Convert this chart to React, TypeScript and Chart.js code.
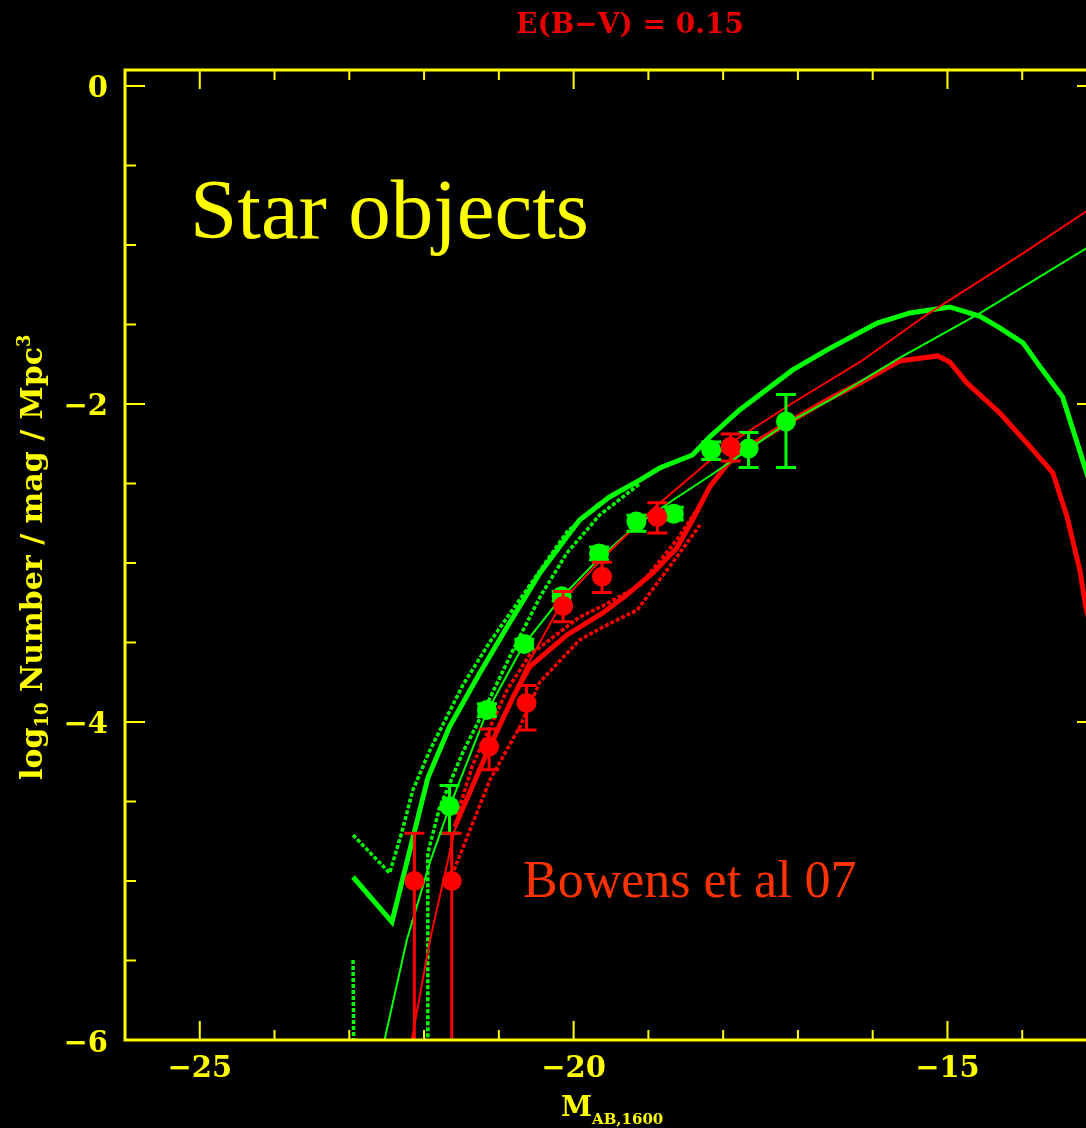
import React, { useEffect, useRef } from "react";
import { Chart, registerables } from "chart.js";

Chart.register(...registerables);

// ---- axis ticks ----
const xMajorTicks = [-25, -20, -15];
const xMinorTicks = [-26, -24, -23, -22, -21, -19, -18, -17, -16, -14, -13];
const yMajorTicks = [0, -2, -4, -6];
const yMinorTicks = [-0.5, -1, -1.5, -2.5, -3, -3.5, -4.5, -5, -5.5];

// ---- binned luminosity function (green) ----
const greenMag = [-21.66, -21.16, -20.66, -20.16, -19.66, -19.16, -18.66, -18.16, -17.66, -17.16];
const greenLogPhi = [-4.53, -3.925, -3.51, -3.21, -2.94, -2.74, -2.69, -2.29, -2.28, -2.11];
const greenErrUp = [0.13, 0.04, 0.03, 0.03, 0.04, 0.04, 0.04, 0.05, 0.1, 0.17];
const greenErrDown = [0.17, 0.04, 0.03, 0.03, 0.04, 0.06, 0.04, 0.06, 0.12, 0.29];

// ---- binned luminosity function (red) ----
const redMag = [-22.13, -21.63, -21.13, -20.63, -20.14, -19.62, -18.88, -17.9];
const redLogPhi = [-5.0, -5.0, -4.155, -3.88, -3.27, -3.086, -2.711, -2.269];
const redErrUp = [0.3, 0.3, 0.11, 0.11, 0.09, 0.09, 0.09, 0.08];
// 40 dex = lower bar runs off the bottom of the plot (upper limits)
const redErrDown = [40, 40, 0.145, 0.17, 0.1, 0.1, 0.1, 0.09];

// ---- Schechter fits ----
const greenFitMag = [-22.6, -22.23, -21.92, -21.66, -21.16, -20.67, -20.17, -19.68, -19.17, -18.67, -18.18, -17.67, -17.16, -16.57, -15.64, -14.57, -13.0];
const greenFitLogPhi = [-6.15, -5.37, -4.88, -4.535, -3.937, -3.516, -3.22, -2.981, -2.767, -2.604, -2.453, -2.289, -2.126, -1.975, -1.711, -1.43, -0.98];
const redFitMag = [-22.22, -21.92, -21.59, -21.13, -20.64, -20.14, -19.61, -18.91, -17.9, -17.07, -16.17, -15.28, -13.96, -13.0];
const redFitLogPhi = [-6.14, -5.37, -4.68, -4.164, -3.66, -3.233, -2.969, -2.648, -2.245, -1.994, -1.736, -1.44, -1.044, -0.745];

// ---- model star-object luminosity functions ----
const greenModelMag = [-22.95, -22.43, -21.95, -21.66, -21.255, -20.89, -20.45, -20.09, -19.92, -19.52, -19.11, -18.85, -18.41, -18.18, -17.78, -17.07, -16.61, -15.94, -15.5, -14.97, -14.57, -14.3, -13.99, -13.76, -13.46, -13.32, -13.15, -13.0];
const greenModelLogPhi = [-4.975, -5.258, -4.352, -4.031, -3.692, -3.403, -3.063, -2.836, -2.73, -2.585, -2.478, -2.403, -2.321, -2.208, -2.038, -1.786, -1.66, -1.491, -1.428, -1.39, -1.447, -1.522, -1.616, -1.767, -1.956, -2.164, -2.415, -2.64];
const greenUpperMag = [-22.95, -22.46, -22.3, -22.15, -21.92, -21.48, -21.12, -20.63, -20.09, -19.65];
const greenUpperLogPhi = [-4.711, -4.95, -4.698, -4.428, -4.176, -3.767, -3.497, -3.17, -2.805, -2.623];
// -40 marks empty bins (log of zero)
const greenLowerMag = [-22.95, -22.43, -21.95, -21.95, -21.79, -21.48, -21.215, -20.81, -20.45, -20.09, -19.65, -19.11];
const greenLowerLogPhi = [-5.497, -40, -40, -4.824, -4.535, -4.189, -3.943, -3.547, -3.214, -2.937, -2.698, -2.5];

const redModelMag = [-21.59, -21.16, -20.81, -20.59, -20.09, -19.61, -19.29, -18.94, -18.62, -18.41, -18.18, -17.95, -17.78, -17.51, -17.07, -16.61, -16.17, -15.64, -15.13, -14.97, -14.74, -14.3, -13.94, -13.59, -13.4, -13.23, -13.15, -13.0];
const redModelLogPhi = [-4.66, -4.195, -3.843, -3.654, -3.453, -3.314, -3.201, -3.063, -2.906, -2.73, -2.522, -2.384, -2.308, -2.226, -2.101, -1.975, -1.868, -1.73, -1.698, -1.736, -1.868, -2.057, -2.245, -2.434, -2.711, -3.044, -3.277, -3.55];
const redUpperMag = [-21.56, -21.35, -20.89, -20.59, -19.92, -19.61, -19.11, -18.62, -18.31];
const redUpperLogPhi = [-4.585, -4.27, -3.799, -3.579, -3.34, -3.27, -3.138, -2.855, -2.635];
const redLowerMag = [-21.6, -21.12, -20.72, -20.45, -19.92, -19.61, -19.15, -18.62, -18.31];
const redLowerLogPhi = [-4.931, -4.365, -4.031, -3.748, -3.484, -3.403, -3.296, -2.962, -2.761];

const GREEN = "#00ff00";
const RED = "#ff0000";
const YELLOW = "#ffff00";
const SERIF_BOLD = "'DejaVu Serif', serif";
const TIMES = "'Liberation Serif', 'Times New Roman', serif";

const CANVAS_W = 1110;
const CANVAS_H = 1128;

const zip = (xs: number[], ys: number[]) => xs.map((x, i) => ({ x, y: ys[i] }));
const fmt = (v: number) => (v < 0 ? "\u2212" + Math.abs(v) : String(v));

const lineSet = (label: string, xs: number[], ys: number[], color: string, width: number, order: number, dash: number[] = []) => ({
  label,
  data: zip(xs, ys),
  showLine: true,
  borderColor: color,
  backgroundColor: color,
  borderWidth: width,
  borderDash: dash,
  borderJoinStyle: "miter",
  pointRadius: 0,
  tension: 0,
  order,
});

const pointSet = (label: string, xs: number[], ys: number[], up: number[], down: number[], color: string, order: number) => ({
  label,
  data: zip(xs, ys),
  showLine: false,
  pointRadius: 10,
  pointBackgroundColor: color,
  pointBorderWidth: 0,
  borderColor: color,
  backgroundColor: color,
  errUp: up,
  errDown: down,
  order,
});

// error bars drawn right before each point dataset
const errorBars = {
  id: "errorBars",
  beforeDatasetDraw(chart: any, args: any) {
    const ds = chart.data.datasets[args.index];
    if (!ds.errUp) return;
    const { ctx, chartArea: a, scales } = chart;
    const ys = scales.y;
    ctx.save();
    ctx.beginPath();
    ctx.rect(a.left, a.top, a.right - a.left, a.bottom - a.top);
    ctx.clip();
    ctx.strokeStyle = ds.borderColor;
    ctx.lineWidth = 3;
    args.meta.data.forEach((el: any, i: number) => {
      const p = ds.data[i];
      const top = ys.getPixelForValue(p.y + ds.errUp[i]);
      const bot = ys.getPixelForValue(Math.max(p.y - ds.errDown[i], ys.min - 1));
      ctx.beginPath();
      ctx.moveTo(el.x, top);
      ctx.lineTo(el.x, bot);
      ctx.moveTo(el.x - 10, top);
      ctx.lineTo(el.x + 10, top);
      if (ds.errDown[i] < 10) {
        ctx.moveTo(el.x - 10, bot);
        ctx.lineTo(el.x + 10, bot);
      }
      ctx.stroke();
    });
    ctx.restore();
  },
};

// frame, inward ticks, titles and annotations
const decorations = {
  id: "decorations",
  beforeDraw(chart: any) {
    const { ctx, width, height } = chart;
    ctx.save();
    ctx.fillStyle = "#000";
    ctx.fillRect(0, 0, width, height);
    ctx.restore();
  },
  afterDraw(chart: any) {
    const { ctx, chartArea: a, scales } = chart;
    const xs = scales.x;
    const ys = scales.y;
    ctx.save();
    ctx.strokeStyle = YELLOW;
    ctx.lineWidth = 2;
    const MAJ = 19;
    const MIN = 10;
    const tickX = (v: number, len: number) => {
      const px = xs.getPixelForValue(v);
      ctx.beginPath();
      ctx.moveTo(px, a.bottom);
      ctx.lineTo(px, a.bottom - len);
      ctx.moveTo(px, a.top);
      ctx.lineTo(px, a.top + len);
      ctx.stroke();
    };
    const tickY = (v: number, len: number) => {
      const py = ys.getPixelForValue(v);
      ctx.beginPath();
      ctx.moveTo(a.left, py);
      ctx.lineTo(a.left + len, py);
      ctx.moveTo(a.right, py);
      ctx.lineTo(a.right - len, py);
      ctx.stroke();
    };
    xMajorTicks.forEach((v) => tickX(v, MAJ));
    xMinorTicks.forEach((v) => tickX(v, MIN));
    yMajorTicks.forEach((v) => tickY(v, MAJ + 1));
    yMinorTicks.forEach((v) => tickY(v, MIN + 1));
    ctx.lineWidth = 3;
    ctx.strokeRect(a.left, a.top, a.right - a.left, a.bottom - a.top);

    // plot title
    ctx.fillStyle = "#e80000";
    ctx.font = `bold 28px ${SERIF_BOLD}`;
    ctx.textAlign = "center";
    ctx.textBaseline = "alphabetic";
    ctx.fillText("E(B\u2212V) = 0.15", 630, 33);

    // x-axis title with subscript
    ctx.fillStyle = YELLOW;
    ctx.textAlign = "left";
    ctx.font = `bold 28px ${SERIF_BOLD}`;
    ctx.fillText("M", 561, 1116);
    ctx.font = `bold 15px ${SERIF_BOLD}`;
    ctx.fillText("AB,1600", 592, 1124);

    // y-axis title, rotated, with sub/superscripts
    ctx.save();
    ctx.translate(42, 780);
    ctx.rotate(-Math.PI / 2);
    const parts: [string, number, number][] = [
      ["log", 30, 0],
      ["10", 18, 6],
      [" Number / mag / Mpc", 30, 0],
      ["3", 18, -12],
    ];
    let cx = 0;
    parts.forEach(([t, size, dy]) => {
      ctx.font = `bold ${size}px ${SERIF_BOLD}`;
      ctx.fillText(t, cx, dy);
      cx += ctx.measureText(t).width;
    });
    ctx.restore();

    // annotations
    ctx.font = `85px ${TIMES}`;
    ctx.fillStyle = YELLOW;
    ctx.fillText("Star objects", 190, 238);
    ctx.font = `52px ${TIMES}`;
    ctx.fillStyle = "#ff3300";
    ctx.fillText("Bowens et al 07", 523, 897);
    ctx.restore();
  },
};

export default function App() {
  const ref = useRef<HTMLCanvasElement>(null);

  useEffect(() => {
    const canvas = ref.current;
    if (!canvas) return;
    const tickFont = { family: SERIF_BOLD, size: 29, weight: "bold" as const };
    const chart = new Chart(canvas, {
      type: "scatter",
      data: {
        datasets: [
          pointSet("Bowens 07 (red)", redMag, redLogPhi, redErrUp, redErrDown, RED, 0),
          pointSet("Bowens 07 (green)", greenMag, greenLogPhi, greenErrUp, greenErrDown, GREEN, 1),
          lineSet("Fit (red)", redFitMag, redFitLogPhi, RED, 2, 2),
          lineSet("Fit (green)", greenFitMag, greenFitLogPhi, GREEN, 2, 3),
          lineSet("Model (red)", redModelMag, redModelLogPhi, RED, 5, 4),
          lineSet("Model upper (red)", redUpperMag, redUpperLogPhi, RED, 3.5, 5, [4, 2]),
          lineSet("Model lower (red)", redLowerMag, redLowerLogPhi, RED, 3.5, 6, [4, 2]),
          lineSet("Model (green)", greenModelMag, greenModelLogPhi, GREEN, 5, 7),
          lineSet("Model upper (green)", greenUpperMag, greenUpperLogPhi, GREEN, 3.5, 8, [4, 2]),
          lineSet("Model lower (green)", greenLowerMag, greenLowerLogPhi, GREEN, 3.5, 9, [4, 2]),
        ] as any,
      },
      options: {
        responsive: false,
        maintainAspectRatio: false,
        devicePixelRatio: 1,
        animation: false,
        events: [],
        layout: { padding: { top: 70, left: 0, right: CANVAS_W - 1097, bottom: 0 } },
        plugins: {
          legend: { display: false },
          tooltip: { enabled: false },
          title: { display: false },
        },
        scales: {
          x: {
            type: "linear",
            position: "bottom",
            min: -26,
            max: -13,
            grid: { display: false, drawTicks: false },
            border: { display: false },
            afterBuildTicks: (s: any) => {
              s.ticks = xMajorTicks.map((value) => ({ value }));
            },
            afterFit: (s: any) => {
              s.height = CANVAS_H - 1040;
            },
            ticks: {
              color: YELLOW,
              font: tickFont,
              padding: 12,
              autoSkip: false,
              maxRotation: 0,
              callback: (v: any) => fmt(Number(v)),
            },
          },
          y: {
            type: "linear",
            position: "left",
            min: -6,
            max: 0.1,
            grid: { display: false, drawTicks: false },
            border: { display: false },
            afterBuildTicks: (s: any) => {
              s.ticks = yMajorTicks.map((value) => ({ value }));
            },
            afterFit: (s: any) => {
              s.width = 125;
            },
            ticks: {
              color: YELLOW,
              font: tickFont,
              padding: 17,
              labelOffset: 4,
              autoSkip: false,
              callback: (v: any) => fmt(Number(v)),
            },
          },
        },
      },
      plugins: [errorBars, decorations],
    });
    return () => chart.destroy();
  }, []);

  return (
    <div
      style={{
        position: "fixed",
        left: 0,
        top: 0,
        width: 1086,
        height: 1128,
        overflow: "hidden",
        background: "#000",
      }}
    >
      <canvas ref={ref} width={CANVAS_W} height={CANVAS_H} style={{ display: "block", width: CANVAS_W, height: CANVAS_H }} />
    </div>
  );
}
